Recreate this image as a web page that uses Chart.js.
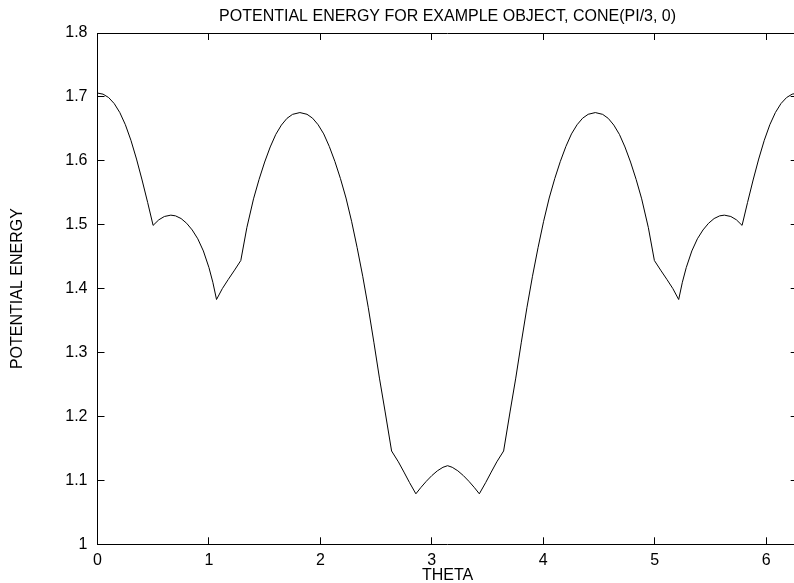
<!DOCTYPE html>
<html>
<head>
<meta charset="utf-8">
<script src="https://cdn.jsdelivr.net/npm/chart.js@4/dist/chart.umd.min.js"></script>
<style>
html,body{margin:0;padding:0;overflow:hidden;background:#fff;width:794px;height:583px}
#wrap{width:820px;height:583px}
</style>
</head>
<body>
<div id="wrap"><canvas id="c" width="820" height="583"></canvas></div>
<script>
const chartTitle = "POTENTIAL ENERGY FOR EXAMPLE OBJECT, CONE(PI/3, 0)";
const xTitle = "THETA";
const yTitle = "POTENTIAL ENERGY";

const thetaValues = [
  0, 0.05, 0.1, 0.15, 0.2, 0.25, 0.3, 0.35, 0.4, 0.45,
  0.499, 0.55, 0.6, 0.658, 0.7, 0.75, 0.8, 0.85, 0.9, 0.95,
  1.0, 1.035, 1.068, 1.12, 1.172, 1.23, 1.286, 1.34, 1.40, 1.45,
  1.50, 1.55, 1.60, 1.65, 1.70, 1.75, 1.816, 1.88, 1.93, 1.98,
  2.03, 2.08, 2.13, 2.18, 2.23, 2.28, 2.33, 2.38, 2.43, 2.48,
  2.53, 2.58, 2.639, 2.70, 2.75, 2.80, 2.857, 2.90, 2.95, 3.00,
  3.05, 3.10, 3.1416,
  3.1832, 3.2332, 3.2832, 3.3332, 3.3832, 3.4262, 3.4832, 3.5332, 3.5832, 3.6442,
  3.7032, 3.7532, 3.8032, 3.8532, 3.9032, 3.9532, 4.0032, 4.0532, 4.1032, 4.1532,
  4.2032, 4.2532, 4.3032, 4.3532, 4.4032, 4.4672, 4.5332, 4.5832, 4.6332, 4.6832,
  4.7332, 4.7832, 4.8332, 4.8832, 4.9432, 4.9972, 5.0532, 5.1112, 5.1632, 5.2152,
  5.2482, 5.2832, 5.3332, 5.3832, 5.4332, 5.4832, 5.5332, 5.5832, 5.6252, 5.6832,
  5.7332, 5.7842, 5.8332, 5.8832, 5.9332, 5.9832, 6.0332, 6.0832, 6.1332, 6.1832,
  6.2332, 6.2832
];
const energyValues = [
  1.706, 1.7043, 1.699, 1.6896, 1.6756, 1.6565, 1.6321, 1.6028, 1.570, 1.5349,
  1.499, 1.5077, 1.5129, 1.515, 1.5139, 1.5097, 1.5023, 1.4918, 1.478, 1.459,
  1.433, 1.410, 1.383, 1.400, 1.414, 1.429, 1.444, 1.4954, 1.5405, 1.571,
  1.5981, 1.6217, 1.6414, 1.6559, 1.6664, 1.6727, 1.6755, 1.6728, 1.6667, 1.6564,
  1.6421, 1.6225, 1.5991, 1.5722, 1.5418, 1.5054, 1.4641, 1.4194, 1.3701, 1.3162,
  1.260, 1.2085, 1.146, 1.129, 1.113, 1.0965, 1.079, 1.0885, 1.0985, 1.1075,
  1.115, 1.1205, 1.123,
  1.1205, 1.115, 1.1075, 1.0985, 1.0885, 1.079, 1.0965, 1.113, 1.129, 1.146,
  1.2085, 1.260, 1.3162, 1.3701, 1.4194, 1.4641, 1.5054, 1.5418, 1.5722, 1.5991,
  1.6225, 1.6421, 1.6564, 1.6667, 1.6728, 1.6755, 1.6727, 1.6664, 1.6559, 1.6414,
  1.6217, 1.5981, 1.571, 1.5405, 1.4954, 1.444, 1.429, 1.414, 1.400, 1.383,
  1.410, 1.433, 1.459, 1.478, 1.4918, 1.5023, 1.5097, 1.5139, 1.515, 1.5129,
  1.5077, 1.499, 1.5349, 1.570, 1.6028, 1.6321, 1.6565, 1.6756, 1.6896, 1.699,
  1.7043, 1.706
];
const xTickValues = [0, 1, 2, 3, 4, 5, 6];
const xTickLabels = ["0", "1", "2", "3", "4", "5", "6"];
const yTickValues = [1, 1.1, 1.2, 1.3, 1.4, 1.5, 1.6, 1.7, 1.8];
const yTickLabels = ["1", "1.1", "1.2", "1.3", "1.4", "1.5", "1.6", "1.7", "1.8"];
const xMin = 0, xMax = 6.2832, yMin = 1, yMax = 1.8;

const FONT = "'Liberation Sans', Arial, Helvetica, sans-serif";
const points = thetaValues.map((t, i) => ({x: t, y: energyValues[i]}));

function setTicks(values) {
  return function (scale) { scale.ticks = values.map(v => ({value: v})); };
}
const gridOpts = {drawOnChartArea: false, drawTicks: true, tickLength: -7, tickColor: '#000', tickWidth: 1};
const borderOpts = {display: true, color: '#000', width: 1};

new Chart(document.getElementById('c'), {
  type: 'scatter',
  data: {
    datasets: [{
      data: points,
      showLine: true,
      borderColor: '#000',
      borderWidth: 1,
      pointRadius: 0,
      tension: 0,
      fill: false
    }]
  },
  options: {
    responsive: false,
    animation: false,
    events: [],
    layout: {padding: {left: 0, right: 22.3, top: 0, bottom: 0}},
    plugins: {
      legend: {display: false},
      tooltip: {enabled: false},
      title: {
        display: true,
        text: chartTitle,
        fullSize: false,
        color: '#000',
        font: {family: FONT, size: 16, weight: 'normal', lineHeight: 1.2},
        padding: {top: 7.2, bottom: 6.6}
      }
    },
    scales: {
      x: {
        type: 'linear', position: 'bottom', min: xMin, max: xMax,
        afterBuildTicks: setTicks(xTickValues),
        afterFit: s => { s.height = 38.7; },
        grid: gridOpts, border: borderOpts,
        ticks: {color: '#000', font: {family: FONT, size: 16}, padding: 14, maxRotation: 0, autoSkip: false,
                callback: (v, i) => xTickLabels[i]},
        title: {display: true, text: xTitle, color: '#000', font: {family: FONT, size: 16, lineHeight: 1}, padding: {top: 0, bottom: -1}}
      },
      x2: {
        type: 'linear', position: 'top', min: xMin, max: xMax,
        afterBuildTicks: setTicks(xTickValues),
        afterFit: s => { s.height = 0; },
        grid: gridOpts, border: borderOpts,
        ticks: {display: false}
      },
      y: {
        type: 'linear', position: 'left', min: yMin, max: yMax,
        afterBuildTicks: setTicks(yTickValues),
        afterFit: s => { s.width = 97.5; },
        grid: gridOpts, border: borderOpts,
        ticks: {color: '#000', font: {family: FONT, size: 16}, padding: 17, autoSkip: false,
                callback: (v, i) => yTickLabels[i]},
        title: {display: true, text: yTitle, color: '#000', font: {family: FONT, size: 16, lineHeight: 1}, padding: {top: 9.5, bottom: 0}}
      },
      y2: {
        type: 'linear', position: 'right', min: yMin, max: yMax,
        afterBuildTicks: setTicks(yTickValues),
        afterFit: s => { s.width = 0; },
        grid: gridOpts, border: borderOpts,
        ticks: {display: false}
      }
    }
  }
});
</script>
</body>
</html>
